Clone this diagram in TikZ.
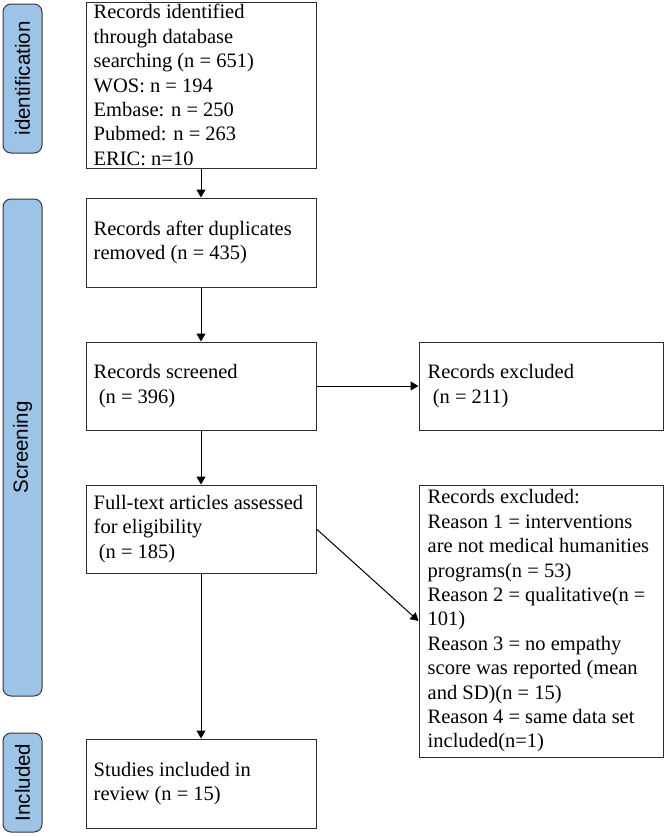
\documentclass[tikz,border=0pt]{standalone}
\usepackage{fontspec}
\setmainfont{Liberation Serif}
\newfontfamily\labfont{Liberation Sans}
\usetikzlibrary{arrows.meta}
\definecolor{sidefill}{RGB}{157,195,230}
\definecolor{sideline}{RGB}{55,55,55}
\definecolor{boxline}{RGB}{45,45,45}
\tikzset{
  boxnode/.style={draw=boxline, line width=1pt, fill=white, inner sep=0pt},
  txtnode/.style={anchor=west, inner sep=0pt, align=left, font=\fontsize{20.5pt}{24.4pt}\selectfont},
  sidenode/.style={draw=sideline, line width=1pt, fill=sidefill, rounded corners=8pt, inner sep=0pt, minimum width=39pt},
  sidetext/.style={rotate=90, inner sep=0pt, font=\labfont\fontsize{20.5pt}{24pt}\selectfont},
  flowarrow/.style={draw=black, line width=1pt, -{Triangle[width=9pt,length=8pt]}}
}
\begin{document}
\begin{tikzpicture}[x=1pt, y=-1pt]
\fill[white] (0,0) rectangle (666,836);
\useasboundingbox (0,0) rectangle (666,836);

% side labels
\node[sidenode, minimum height=149pt] (sid) at (22.5,78.5) {};
\node[sidetext] (sidt) at (sid.center) {identification};
\node[sidenode, minimum height=497pt] (sscr) at (22.5,447.5) {};
\node[sidetext] (sscrt) at (sscr.center) {Screening};
\node[sidenode, minimum height=99pt] (sinc) at (22.5,782.5) {};
\node[sidetext] (sinct) at (sinc.center) {Included};

% main boxes
\node[boxnode, minimum width=230pt, minimum height=166pt] (b1) at (201,85) {};
\node[txtnode] (t1) at ([xshift=8pt]b1.west) {Records identified\\through database\\searching (n = 651)\\WOS: n = 194\\Embase: n = 250\\Pubmed: n = 263\\ERIC: n=10};

\node[boxnode, minimum width=230pt, minimum height=89pt] (b2) at (201,242.5) {};
\node[txtnode] (t2) at ([xshift=8pt]b2.west) {Records after duplicates\\removed (n = 435)};

\node[boxnode, minimum width=230pt, minimum height=88pt] (b3) at (201,386) {};
\node[txtnode] (t3) at ([xshift=8pt]b3.west) {Records screened\\\hspace*{0.25em}(n = 396)};

\node[boxnode, minimum width=230pt, minimum height=88pt] (b4) at (201,529) {};
\node[txtnode] (t4) at ([xshift=8pt]b4.west) {Full-text articles assessed\\for eligibility\\\hspace*{0.25em}(n = 185)};

\node[boxnode, minimum width=230pt, minimum height=89pt] (b5) at (201,783.5) {};
\node[txtnode] (t5) at ([xshift=8pt]b5.west) {Studies included in\\review (n = 15)};

\node[boxnode, minimum width=244pt, minimum height=88pt] (e1) at (541,386) {};
\node[txtnode] (te1) at ([xshift=9pt]e1.west) {Records excluded\\\hspace*{0.25em}(n = 211)};

\node[boxnode, minimum width=244pt, minimum height=272pt] (e2) at (541,621) {};
\node[txtnode] (te2) at ([xshift=9pt]e2.west) {Records excluded:\\Reason 1 = interventions\\are not medical humanities\\programs(n = 53)\\Reason 2 = qualitative(n =\\101)\\Reason 3 = no empathy\\score was reported (mean\\and SD)(n = 15)\\Reason 4 = same data set\\included(n=1)};

% connectors
\draw[flowarrow] (b1.south) -- (b2.north);
\draw[flowarrow] (b2.south) -- (b3.north);
\draw[flowarrow] (b3.south) -- (b4.north);
\draw[flowarrow] (b4.south) -- (b5.north);
\draw[flowarrow] (b3.east) -- (e1.west);
\draw[flowarrow] (b4.east) -- (e2.west);
\end{tikzpicture}
\end{document}
